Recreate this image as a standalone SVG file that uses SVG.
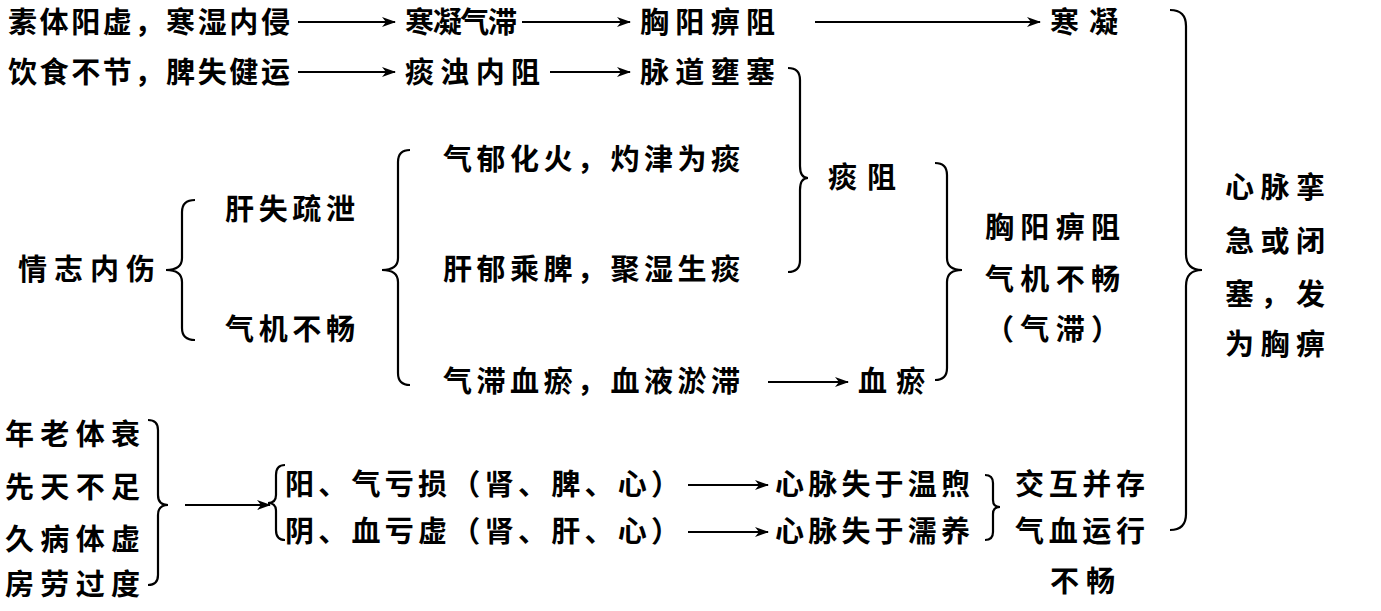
<svg xmlns="http://www.w3.org/2000/svg" width="1381" height="611" viewBox="0 0 1381 611">
<defs><marker id="ah" markerWidth="14" markerHeight="10" refX="13" refY="5" orient="auto" markerUnits="userSpaceOnUse"><path d="M0,0 L14,5 L0,10 L4,5 Z" fill="#000"/></marker></defs>
<style>
text{font-family:"Noto Sans CJK SC","Noto Sans CJK JP",sans-serif;font-size:29px;font-weight:700;fill:#000}
.b{fill:none;stroke:#000;stroke-width:2.2}
.a{stroke:#000;stroke-width:2;marker-end:url(#ah)}
</style>
<rect width="1381" height="611" fill="#fff"/>
<g id="nodes">
<g id="n1"><text x="8" y="33" textLength="282">素体阳虚，寒湿内侵</text></g>
<g id="n2"><text x="405" y="33" textLength="112">寒凝气滞</text></g>
<g id="n3"><text x="640" y="33" textLength="135">胸阳痹阻</text></g>
<g id="n4"><text x="1050" y="33" textLength="68">寒凝</text></g>
<g id="n5"><text x="8" y="83" textLength="282">饮食不节，脾失健运</text></g>
<g id="n6"><text x="405" y="83" textLength="135">痰浊内阻</text></g>
<g id="n7"><text x="640" y="83" textLength="135">脉道壅塞</text></g>
<g id="n8"><text x="828" y="188" textLength="68">痰阻</text></g>
<g id="n9"><text x="18" y="280" textLength="137">情志内伤</text></g>
<g id="n10"><text x="225" y="220" textLength="130">肝失疏泄</text></g>
<g id="n11"><text x="225" y="340" textLength="130">气机不畅</text></g>
<g id="n12"><text x="443" y="170" textLength="297">气郁化火，灼津为痰</text></g>
<g id="n13"><text x="443" y="280" textLength="297">肝郁乘脾，聚湿生痰</text></g>
<g id="n14"><text x="443" y="392" textLength="297">气滞血瘀，血液淤滞</text></g>
<g id="n15"><text x="858" y="392" textLength="67">血瘀</text></g>
<g id="n16"><text x="985" y="238" textLength="135">胸阳痹阻</text><text x="985" y="290" textLength="135">气机不畅</text><text x="985" y="340" textLength="135">（气滞）</text></g>
<g id="n17"><text x="1225" y="198" textLength="100">心脉挛</text><text x="1225" y="252" textLength="100">急或闭</text><text x="1225" y="305" textLength="100">塞，发</text><text x="1225" y="355" textLength="100">为胸痹</text></g>
<g id="n18"><text x="5" y="445" textLength="135">年老体衰</text><text x="5" y="498" textLength="135">先天不足</text><text x="5" y="550" textLength="135">久病体虚</text><text x="5" y="595" textLength="135">房劳过度</text></g>
<g id="n19"><text x="285" y="495" textLength="395">阳、气亏损（肾、脾、心）</text></g>
<g id="n20"><text x="285" y="542" textLength="395">阴、血亏虚（肾、肝、心）</text></g>
<g id="n21"><text x="775" y="495" textLength="195">心脉失于温煦</text></g>
<g id="n22"><text x="775" y="542" textLength="195">心脉失于濡养</text></g>
<g id="n23"><text x="1015" y="495" textLength="130">交互并存</text><text x="1015" y="542" textLength="130">气血运行</text><text x="1050" y="592" textLength="65">不畅</text></g>
</g>
<g id="connectors">
<line class="a" x1="298" y1="22" x2="395" y2="22"/>
<line class="a" x1="522" y1="22" x2="630" y2="22"/>
<line class="a" x1="815" y1="22" x2="1040" y2="22"/>
<line class="a" x1="298" y1="72" x2="395" y2="72"/>
<line class="a" x1="550" y1="72" x2="630" y2="72"/>
<line class="a" x1="768" y1="382" x2="848" y2="382"/>
<line class="a" x1="185" y1="505" x2="270" y2="505"/>
<line class="a" x1="688" y1="485" x2="768" y2="485"/>
<line class="a" x1="688" y1="532" x2="768" y2="532"/>
<path class="b" d="M788,68 Q800,68 800,80 L800,166 Q800,178 808,178 Q800,178 800,190 L800,260 Q800,272 788,272"/>
<path class="b" d="M195,200 Q182,200 182,212 L182,258 Q182,270 166,270 Q182,270 182,282 L182,328 Q182,340 195,340"/>
<path class="b" d="M410,150 Q398,150 398,162 L398,258 Q398,270 382,270 Q398,270 398,282 L398,373 Q398,385 410,385"/>
<path class="b" d="M935,163 Q947,163 947,175 L947,258 Q947,270 962,270 Q947,270 947,282 L947,368 Q947,380 935,380"/>
<path class="b" d="M1170,10 Q1186,10 1186,26 L1186,254 Q1186,270 1202,270 Q1186,270 1186,286 L1186,514 Q1186,530 1170,530"/>
<path class="b" d="M148,420 Q158,420 158,430 L158,495 Q158,505 168,505 Q158,505 158,515 L158,575 Q158,585 148,585"/>
<path class="b" d="M285,465 Q276,465 276,475 L276,495 Q276,503 268,503 Q276,503 276,511 L276,530 Q276,540 285,540"/>
<path class="b" d="M985,475 Q993,475 993,483 L993,500 Q993,507 1000,507 Q993,507 993,514 L993,532 Q993,540 985,540"/>
</g>
</svg>
